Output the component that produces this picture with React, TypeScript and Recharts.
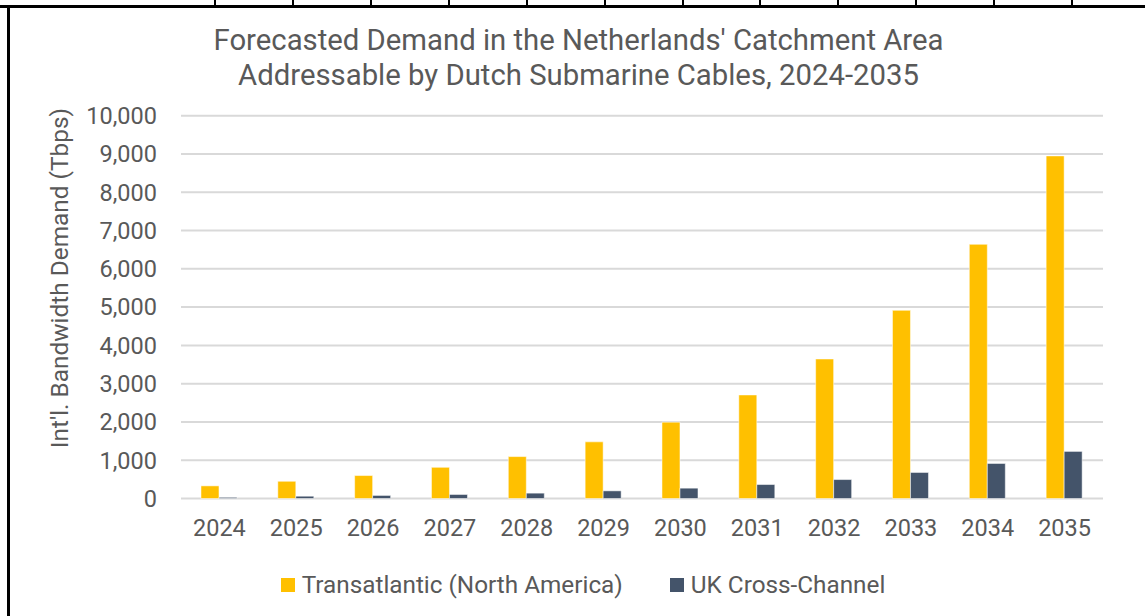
import React from 'react';
import { BarChart, Bar, XAxis, YAxis, CartesianGrid } from 'recharts';

const years = ['2024', '2025', '2026', '2027', '2028', '2029', '2030', '2031', '2032', '2033', '2034', '2035'];
const transatlantic = [330, 450, 600, 815, 1095, 1480, 1995, 2705, 3645, 4915, 6640, 8950];
const ukCrossChannel = [30, 60, 80, 105, 140, 200, 270, 365, 495, 680, 915, 1230];
const yTicks = [0, 1000, 2000, 3000, 4000, 5000, 6000, 7000, 8000, 9000, 10000];

const seriesNames = ['Transatlantic (North America)', 'UK Cross-Channel'];
const seriesColors = ['#FFC000', '#44546A'];

const data = years.map((year, i) => ({
  year,
  transatlantic: transatlantic[i],
  uk: ukCrossChannel[i],
}));

const FONT = 'Roboto, "Noto Sans", sans-serif';
const GREY = '#595959';

// cell borders of the table the chart was pasted into
const frameTicks = [215, 293, 371, 449, 527, 605, 683, 760, 838, 916, 994, 1072];

const YLabel = (props: any) => {
  const { viewBox } = props;
  const cy = viewBox.y + viewBox.height / 2 - 29;
  return (
    <text
      x={60}
      y={cy}
      transform={`rotate(-90, 60, ${cy})`}
      textAnchor="middle"
      dominantBaseline="central"
      fill={GREY}
      fontSize={24.4}
      fontFamily={FONT}
    >
      Int'l. Bandwidth Demand (Tbps)
    </text>
  );
};

export default function App() {
  return (
    <div style={{ position: 'absolute', left: 0, top: 0, width: 1145, height: 616, background: '#fff', overflow: 'hidden' }}>
      <div style={{ position: 'absolute', left: 0, top: 5, width: 1145, height: 3, background: '#000' }} />
      <div style={{ position: 'absolute', left: 7, top: 5, width: 3, height: 611, background: '#000' }} />
      {frameTicks.map((x) => (
        <div key={x} style={{ position: 'absolute', left: x - 1, top: 0, width: 2, height: 6, background: '#000' }} />
      ))}
      <div
        style={{
          position: 'absolute',
          left: 0,
          width: 1157,
          top: 23,
          textAlign: 'center',
          fontFamily: FONT,
          fontSize: 29.3,
          lineHeight: '35px',
          color: GREY,
        }}
      >
        Forecasted Demand in the Netherlands' Catchment Area
        <br />
        Addressable by Dutch Submarine Cables, 2024-2035
      </div>
      <div style={{ position: 'absolute', left: 0, top: 0 }}>
        <BarChart
          width={1145}
          height={616}
          data={data}
          margin={{ top: 115.7, right: 42, bottom: 0, left: 0 }}
          barCategoryGap="26%"
          barGap={0}
        >
          <CartesianGrid horizontal vertical={false} stroke="#D9D9D9" strokeWidth={2} />
          <XAxis
            dataKey="year"
            axisLine={false}
            tickLine={false}
            tickMargin={15}
            tick={{ fill: GREY, fontSize: 23.5, fontFamily: FONT }}
            height={117.5}
          />
          <YAxis
            width={181}
            domain={[0, 10000]}
            ticks={yTicks}
            interval={0}
            axisLine={false}
            tickLine={false}
            tickMargin={18}
            tickFormatter={(v: number) => v.toLocaleString('en-US')}
            tick={{ fill: GREY, fontSize: 23.5, fontFamily: FONT }}
            label={<YLabel />}
          />
          <Bar
            dataKey="transatlantic"
            name={seriesNames[0]}
            fill={seriesColors[0]}
            stroke="#ffffff"
            strokeOpacity={0.5}
            strokeWidth={1}
            isAnimationActive={false}
          />
          <Bar
            dataKey="uk"
            name={seriesNames[1]}
            fill={seriesColors[1]}
            stroke="#ffffff"
            strokeOpacity={0.5}
            strokeWidth={1}
            isAnimationActive={false}
          />
        </BarChart>
      </div>
      <div
        style={{
          position: 'absolute',
          left: 0,
          width: 1166,
          top: 570,
          display: 'flex',
          justifyContent: 'center',
          fontFamily: FONT,
          fontSize: 24.3,
          color: GREY,
          lineHeight: '30px',
        }}
      >
        {seriesNames.map((name, i) => (
          <div key={name} style={{ display: 'flex', alignItems: 'center', marginLeft: i ? 47 : 0 }}>
            <span style={{ width: 14, height: 14, background: seriesColors[i], marginRight: 7 }} />
            <span>{name}</span>
          </div>
        ))}
      </div>
    </div>
  );
}
